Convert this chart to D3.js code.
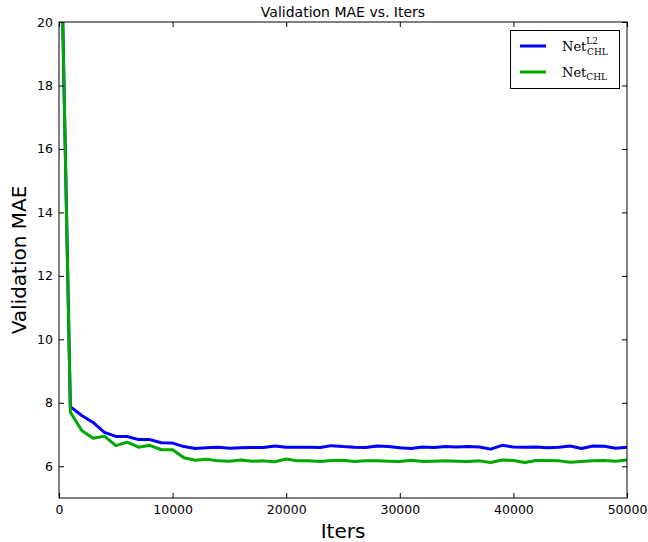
<!DOCTYPE html>
<html><head><meta charset="utf-8">
<script src="https://cdn.jsdelivr.net/npm/d3@7"></script>
<style>body{margin:0;background:#fff}svg{display:block}</style>
</head><body>
<svg id="c" width="648" height="542"></svg>
<script>
const iters = d3.range(0, 50001, 1000);
const netL2 = [26, 7.88, 7.6, 7.38, 7.07, 6.94, 6.94, 6.84, 6.84, 6.74, 6.73,
  6.62, 6.56, 6.58, 6.60, 6.57, 6.58, 6.59, 6.59, 6.64, 6.60,
  6.60, 6.60, 6.59, 6.65, 6.62, 6.60, 6.59, 6.64, 6.62, 6.58,
  6.56, 6.61, 6.59, 6.62, 6.61, 6.62, 6.61, 6.54, 6.66, 6.61,
  6.60, 6.61, 6.58, 6.60, 6.64, 6.56, 6.64, 6.63, 6.57, 6.60];
const netCHL = [26, 7.7, 7.13, 6.88, 6.95, 6.65, 6.76, 6.6, 6.66, 6.52, 6.52,
  6.27, 6.19, 6.22, 6.17, 6.16, 6.20, 6.16, 6.17, 6.14, 6.23,
  6.17, 6.17, 6.15, 6.18, 6.19, 6.15, 6.17, 6.17, 6.16, 6.15,
  6.19, 6.15, 6.16, 6.17, 6.16, 6.15, 6.17, 6.12, 6.20, 6.18,
  6.12, 6.18, 6.18, 6.17, 6.13, 6.15, 6.17, 6.18, 6.16, 6.20];
const xTicks = [0, 10000, 20000, 30000, 40000, 50000];
const yTicks = [6, 8, 10, 12, 14, 16, 18, 20];
const seriesNames = ["L2", "CHL"];
const colors = ["#0000ff", "#00a800"];

const svg = d3.select("#c");
const L = 59, R = 627, T = 22, B = 498;
const x = d3.scaleLinear().domain([0, 50000]).range([L, R]);
const y = d3.scaleLinear().domain([5, 20]).range([B, T]);
const font = "'DejaVu Sans', sans-serif";

svg.append("defs").append("clipPath").attr("id", "clip")
  .append("rect").attr("x", L).attr("y", T).attr("width", R - L).attr("height", B - T);

const line = d3.line().x((d, i) => x(iters[i])).y(d => y(d));
[netL2, netCHL].forEach((s, k) => {
  svg.append("path").datum(s).attr("clip-path", "url(#clip)")
    .attr("d", line).attr("fill", "none").attr("stroke", colors[k])
    .attr("stroke-width", 3).attr("stroke-linejoin", "round");
});

function styleAxis(g) {
  g.select(".domain").remove();
  g.selectAll("line").attr("stroke", "#000").attr("stroke-width", 1);
  g.selectAll("text").attr("font-family", font).attr("font-size", 12.5).attr("fill", "#000");
}
svg.append("g").attr("transform", `translate(0,${B})`)
  .call(d3.axisBottom(x).tickValues(xTicks).tickFormat(d3.format("d")).tickSizeInner(-5).tickSizeOuter(0).tickPadding(7))
  .call(styleAxis);
svg.append("g").attr("transform", `translate(0,${T})`)
  .call(d3.axisTop(x).tickValues(xTicks).tickFormat("").tickSizeInner(-5).tickSizeOuter(0))
  .call(styleAxis);
svg.append("g").attr("transform", `translate(${L},0)`)
  .call(d3.axisLeft(y).tickValues(yTicks).tickFormat(d3.format("d")).tickSizeInner(-5).tickSizeOuter(0).tickPadding(6))
  .call(styleAxis);
svg.append("g").attr("transform", `translate(${R},0)`)
  .call(d3.axisRight(y).tickValues(yTicks).tickFormat("").tickSizeInner(-5).tickSizeOuter(0))
  .call(styleAxis);

svg.append("rect").attr("x", L).attr("y", T).attr("width", R - L).attr("height", B - T)
  .attr("fill", "none").attr("stroke", "#000").attr("stroke-width", 1);

svg.append("text").attr("x", (L + R) / 2).attr("y", 17).attr("text-anchor", "middle")
  .attr("font-family", font).attr("font-size", 14).text("Validation MAE vs. Iters");
svg.append("text").attr("x", (L + R) / 2).attr("y", 538).attr("text-anchor", "middle")
  .attr("font-family", font).attr("font-size", 20).text("Iters");
svg.append("text").attr("transform", `translate(26,${(T + B) / 2}) rotate(-90)`)
  .attr("text-anchor", "middle").attr("font-family", font).attr("font-size", 20).text("Validation MAE");

// legend
const lg = svg.append("g");
lg.append("rect").attr("x", 510.5).attr("y", 30.5).attr("width", 109).attr("height", 58)
  .attr("fill", "#fff").attr("stroke", "#000").attr("stroke-width", 1);
const serif = "'DejaVu Serif', 'Liberation Serif', serif";
seriesNames.forEach((n, k) => {
  const yy = 46 + k * 26;
  lg.append("line").attr("x1", 520).attr("x2", 546).attr("y1", yy).attr("y2", yy)
    .attr("stroke", colors[k]).attr("stroke-width", 3);
  const t = lg.append("text").attr("x", 562).attr("y", yy + 5).attr("font-family", serif).attr("font-size", 13);
  t.append("tspan").text("Net");
  if (k === 0) {
    t.append("tspan").attr("font-size", 9).attr("dy", -7).text("L2");
    t.append("tspan").attr("font-size", 9).attr("dx", -11).attr("dy", 11).text("CHL");
  } else {
    t.append("tspan").attr("font-size", 9).attr("dy", 3).text("CHL");
  }
});
</script>
</body></html>
